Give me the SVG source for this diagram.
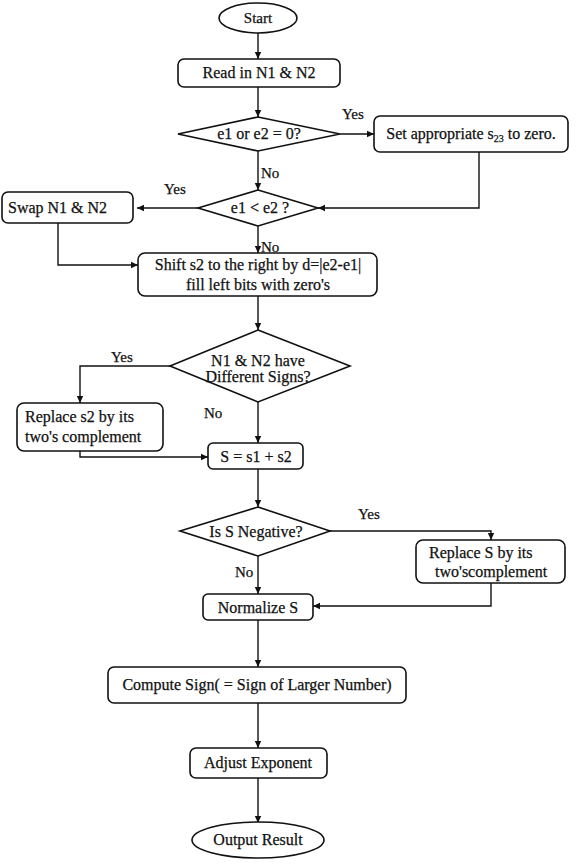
<svg xmlns="http://www.w3.org/2000/svg" width="578" height="864" viewBox="0 0 578 864">
<defs>
<marker id="ah" markerWidth="8" markerHeight="8" refX="7" refY="4" orient="auto" markerUnits="userSpaceOnUse">
<path d="M0,0.8 L7,4 L0,7.2 Z" fill="#111"/>
</marker>
<style>
.n{fill:#fff;stroke:#111;stroke-width:1.6}
text{font-family:'Liberation Serif','Times New Roman','DejaVu Serif',serif;font-size:16px;fill:#111;stroke:#111;stroke-width:0.25}
.t{text-anchor:middle}
.s{font-size:15px}
.c{fill:none;stroke:#111;stroke-width:1.4;marker-end:url(#ah)}
</style>
</defs>
<rect width="578" height="864" fill="#fff"/>
<g id="connectors">
<path class="c" d="M258,33 V59"/>
<path class="c" d="M258,87 V117"/>
<path class="c" d="M340,134 H374"/>
<path class="c" d="M258,151 V190"/>
<path class="c" d="M479,152 V208 H318"/>
<path class="c" d="M198,208 H137"/>
<path class="c" d="M258,226 V253"/>
<path class="c" d="M58,223 V265 H138"/>
<path class="c" d="M258,296 V330"/>
<path class="c" d="M170,366 H80 V403"/>
<path class="c" d="M258,402 V443"/>
<path class="c" d="M80,451 V457 H208"/>
<path class="c" d="M258,469 V507"/>
<path class="c" d="M330,531 H491 V540"/>
<path class="c" d="M258,556 V594"/>
<path class="c" d="M491,583 V606 H313"/>
<path class="c" d="M258,620 V667"/>
<path class="c" d="M258,703 V748"/>
<path class="c" d="M258,778 V823"/>
<text class="s" font-family="Liberation Serif, serif" x="342" y="119">Yes</text>
<text class="s" font-family="Liberation Serif, serif" x="261" y="178">No</text>
<text class="s" font-family="Liberation Serif, serif" x="164" y="194">Yes</text>
<text class="s" font-family="Liberation Serif, serif" x="261" y="252">No</text>
<text class="s" font-family="Liberation Serif, serif" x="111" y="362">Yes</text>
<text class="s" font-family="Liberation Serif, serif" x="204" y="418">No</text>
<text class="s" font-family="Liberation Serif, serif" x="358" y="519">Yes</text>
<text class="s" font-family="Liberation Serif, serif" x="235" y="577">No</text>
</g>
<g id="start">
<ellipse class="n" cx="258" cy="18" rx="39" ry="15"/>
<text class="t s" font-family="Liberation Serif, serif" x="258" y="23">Start</text>
</g>
<g id="read">
<rect class="n" x="178" y="59" width="162" height="28" rx="6"/>
<text class="t" font-family="Liberation Serif, serif" x="259" y="78">Read in N1 &amp; N2</text>
</g>
<g id="d1">
<polygon class="n" points="258,117 340,134 258,151 178,134"/>
<text class="t" font-family="Liberation Serif, serif" x="259" y="139">e1 or e2 = 0?</text>
</g>
<g id="setzero">
<rect class="n" x="374" y="116" width="194" height="36" rx="6"/>
<text class="t" font-family="Liberation Serif, serif" x="471" y="139">Set appropriate s<tspan font-size="10" dy="3">23</tspan><tspan dy="-3"> to zero.</tspan></text>
</g>
<g id="d2">
<polygon class="n" points="258,190 318,208 258,226 198,208"/>
<text class="t" font-family="Liberation Serif, serif" x="260" y="213">e1 &lt; e2 ?</text>
</g>
<g id="swap">
<rect class="n" x="2" y="192" width="131" height="31" rx="6"/>
<text font-family="Liberation Serif, serif" x="8" y="213">Swap N1 &amp; N2</text>
</g>
<g id="shift">
<rect class="n" x="138" y="253" width="239" height="43" rx="7"/>
<text class="t" font-family="Liberation Serif, serif" x="258" y="270">Shift s2 to the right by d=|e2-e1|</text>
<text class="t" font-family="Liberation Serif, serif" x="258" y="290">fill left bits with zero's</text>
</g>
<g id="d3">
<polygon class="n" points="258,330 350,366 258,402 170,366"/>
<text class="t" font-family="Liberation Serif, serif" x="258" y="366">N1 &amp; N2 have</text>
<text class="t" font-family="Liberation Serif, serif" x="258" y="382">Different Signs?</text>
</g>
<g id="twos1">
<rect class="n" x="17" y="403" width="146" height="48" rx="7"/>
<text font-family="Liberation Serif, serif" x="25" y="422">Replace s2 by its</text>
<text font-family="Liberation Serif, serif" x="25" y="442">two's complement</text>
</g>
<g id="sum">
<rect class="n" x="208" y="443" width="95" height="26" rx="5"/>
<text class="t" font-family="Liberation Serif, serif" x="256" y="462">S = s1 + s2</text>
</g>
<g id="d4">
<polygon class="n" points="258,507 330,531 258,556 180,531"/>
<text class="t" font-family="Liberation Serif, serif" x="256" y="537">Is S Negative?</text>
</g>
<g id="twos2">
<rect class="n" x="416" y="540" width="149" height="43" rx="7"/>
<text font-family="Liberation Serif, serif" x="429" y="558">Replace S by its</text>
<text font-family="Liberation Serif, serif" x="435" y="577">two'scomplement</text>
</g>
<g id="normalize">
<rect class="n" x="203" y="594" width="110" height="26" rx="5"/>
<text class="t" font-family="Liberation Serif, serif" x="258" y="613">Normalize S</text>
</g>
<g id="sign">
<rect class="n" x="108" y="667" width="298" height="36" rx="6"/>
<text class="t" font-family="Liberation Serif, serif" x="257" y="690">Compute Sign( = Sign of Larger Number)</text>
</g>
<g id="adjust">
<rect class="n" x="190" y="748" width="137" height="30" rx="6"/>
<text class="t" font-family="Liberation Serif, serif" x="258" y="768">Adjust Exponent</text>
</g>
<g id="output">
<ellipse class="n" cx="258" cy="840" rx="66" ry="18"/>
<text class="t" font-family="Liberation Serif, serif" x="258" y="845">Output Result</text>
</g>
</svg>
